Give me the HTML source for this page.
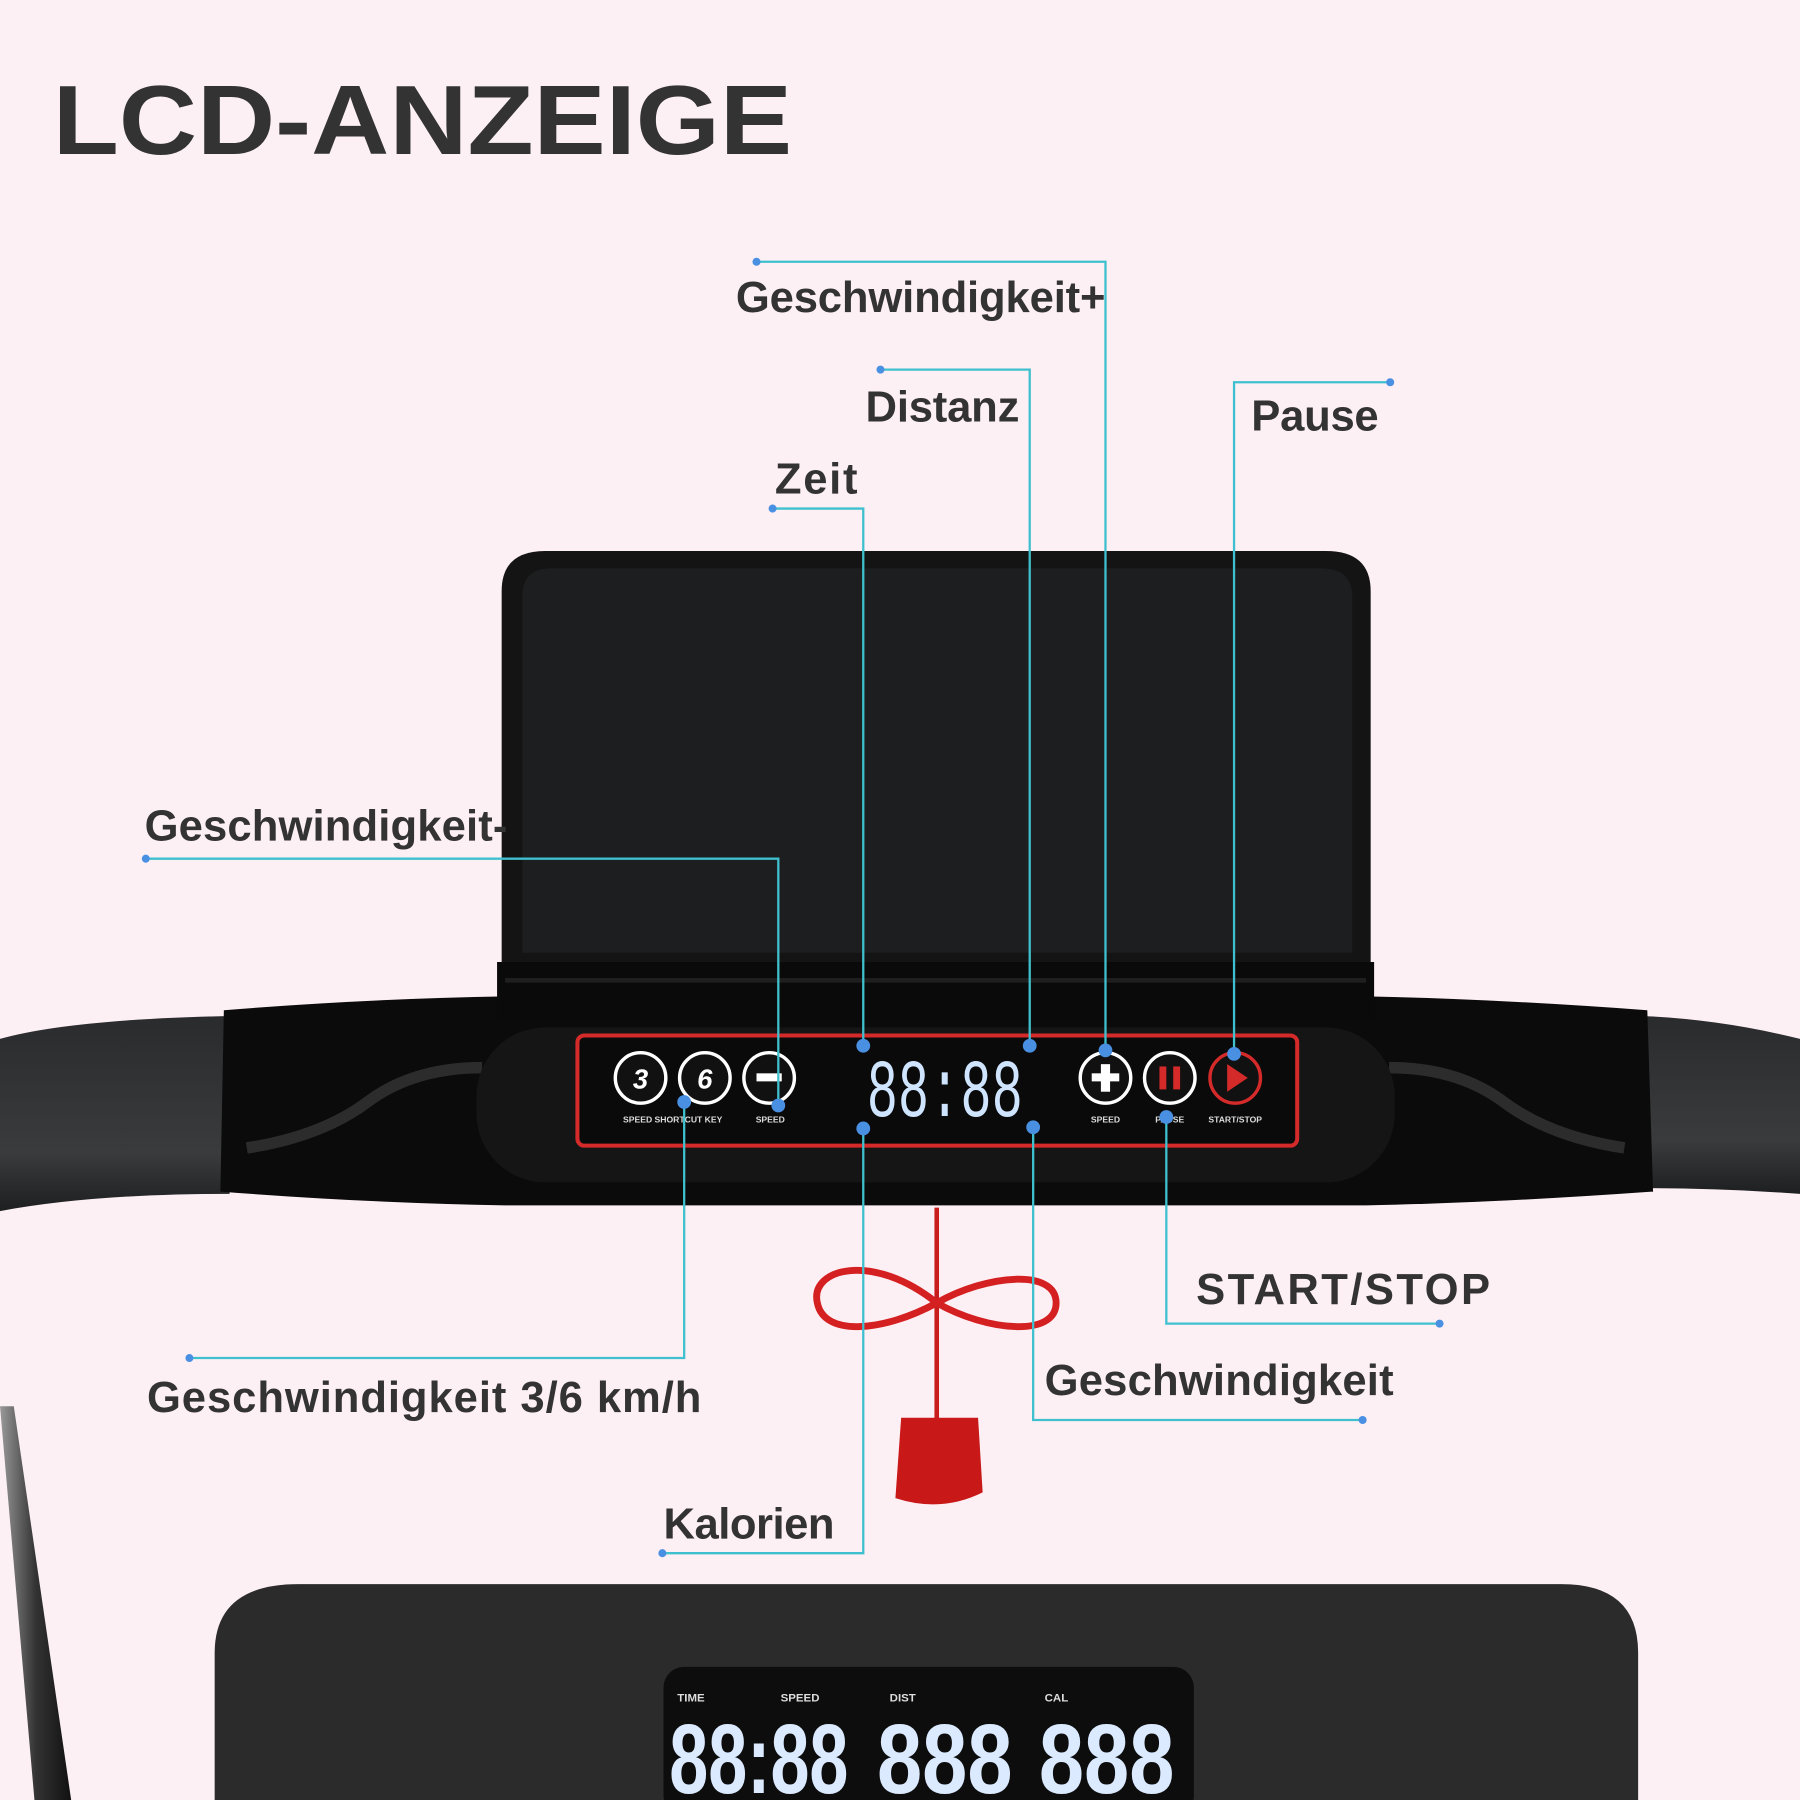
<!DOCTYPE html>
<html><head><meta charset="utf-8"><style>
html,body{margin:0;padding:0;background:#fdf0f5;}
svg{display:block}
text{font-family:"Liberation Sans",sans-serif;font-weight:bold;}
.m{font-family:"Liberation Mono",monospace;font-weight:normal}
</style></head><body>
<svg width="1800" height="1800" viewBox="0 0 1568 1568" xmlns="http://www.w3.org/2000/svg">
<defs>
<linearGradient id="arm" x1="0" y1="0" x2="0" y2="1"><stop offset="0" stop-color="#2a2b2d"/><stop offset="0.7" stop-color="#3a3b3d"/><stop offset="1" stop-color="#1e1f20"/></linearGradient>
<linearGradient id="pole" x1="0" y1="0" x2="1" y2="0"><stop offset="0" stop-color="#999"/><stop offset="0.5" stop-color="#333"/><stop offset="1" stop-color="#111"/></linearGradient>
</defs>
<rect width="1568" height="1568" fill="#fdf0f5"/>
<text x="46" y="134" font-size="86" fill="#333" textLength="644" lengthAdjust="spacingAndGlyphs">LCD-ANZEIGE</text>

<path d="M0 1225 L12 1225 L62 1568 L30 1568 Z" fill="url(#pole)"/>
<path d="M0 905 Q60 888 200 885 L200 1040 Q80 1040 0 1055 Z" fill="url(#arm)"/>
<path d="M1568 905 Q1500 888 1430 885 L1430 1035 Q1500 1035 1568 1040 Z" fill="url(#arm)"/>
<path d="M195 880 Q320 870 440 868 L1190 868 Q1300 870 1435 880 L1440 1038 Q1300 1048 1190 1050 L440 1050 Q320 1048 192 1038 Z" fill="#0b0b0c"/>
<path d="M215 1000 Q280 990 320 960 Q360 930 420 930" stroke="#3a3a3a" stroke-width="10" fill="none" opacity="0.7"/>
<path d="M1415 1000 Q1350 990 1310 960 Q1270 930 1210 930" stroke="#3a3a3a" stroke-width="10" fill="none" opacity="0.7"/>

<path d="M437 840 L437 515 Q437 480 475 480 L1155 480 Q1194 480 1194 515 L1194 840 Z" fill="#141414"/>
<path d="M455 830 L455 520 Q455 495 480 495 L1150 495 Q1178 495 1178 520 L1178 830 Z" fill="#1d1e1f"/>
<rect x="433" y="838" width="764" height="52" fill="#0a0a0a"/>
<rect x="440" y="852" width="750" height="4" fill="#1f1f1f"/>

<rect x="415" y="895" width="800" height="135" rx="60" fill="#151515"/>
<rect x="503" y="902" width="627" height="96" rx="6" fill="#0a0a0a" stroke="#d42a2a" stroke-width="3.5"/>
<g stroke="#fff" stroke-width="3" fill="#111">
<circle cx="558" cy="939" r="22"/><circle cx="614" cy="939" r="22"/><circle cx="670" cy="939" r="22"/>
<circle cx="963" cy="939" r="22"/><circle cx="1019" cy="939" r="22"/>
<circle cx="1076" cy="939" r="22" stroke="#d42a2a"/>
</g>
<text x="558" y="948" font-size="24" fill="#fff" text-anchor="middle" font-style="italic">3</text>
<text x="614" y="948" font-size="24" fill="#fff" text-anchor="middle" font-style="italic">6</text>
<rect x="659" y="935" width="22" height="7" fill="#fff"/>
<rect x="951" y="935" width="24" height="7" fill="#fff"/><rect x="959" y="927" width="8" height="24" fill="#fff"/>
<rect x="1010" y="929" width="6" height="20" fill="#d42a2a"/><rect x="1022" y="929" width="6" height="20" fill="#d42a2a"/>
<path d="M1069 927 L1087 939 L1069 951 Z" fill="#d42a2a"/>
<g font-size="7.5" fill="#ddd" text-anchor="middle">
<text x="586" y="978">SPEED SHORTCUT KEY</text><text x="671" y="978">SPEED</text>
<text x="963" y="978">SPEED</text><text x="1019" y="978">PAUSE</text><text x="1076" y="978">START/STOP</text>
</g>
<text class="m" x="755" y="972" font-size="72" fill="#cfe4ff" textLength="136" lengthAdjust="spacingAndGlyphs">88:88</text>

<line x1="816" y1="1052" x2="816" y2="1240" stroke="#c81d1d" stroke-width="4"/>
<path d="M816 1135 C760 1090 705 1105 712 1135 C718 1165 770 1160 816 1135 C860 1110 920 1105 920 1135 C920 1165 860 1160 816 1135" fill="none" stroke="#d42020" stroke-width="6"/>
<path d="M785 1235 L852 1235 L856 1300 Q820 1318 780 1305 Z" fill="#c81818"/>

<path d="M187 1568 L187 1440 Q187 1380 260 1380 L1360 1380 Q1427 1380 1427 1440 L1427 1568 Z" fill="#2b2b2c"/>
<rect x="578" y="1452" width="462" height="130" rx="18" fill="#0d0d0d"/>
<g font-size="10" fill="#ddd"><text x="590" y="1482">TIME</text><text x="680" y="1482">SPEED</text><text x="775" y="1482">DIST</text><text x="910" y="1482">CAL</text></g>
<g class="m" font-size="86" fill="#dceaff">
<text x="583" y="1562" textLength="156" lengthAdjust="spacingAndGlyphs">88:88</text>
<text x="764" y="1562" textLength="118" lengthAdjust="spacingAndGlyphs">888</text>
<text x="905" y="1562" textLength="118" lengthAdjust="spacingAndGlyphs">888</text>
</g>

<g stroke="#3fc0cf" stroke-width="2" fill="none">
<polyline points="659,228 963,228 963,915"/>
<polyline points="767,322 897,322 897,911"/>
<polyline points="1211,333 1075,333 1075,918"/>
<polyline points="673,443 752,443 752,911"/>
<polyline points="127,748 678,748 678,963"/>
<polyline points="165,1183 596,1183 596,960"/>
<polyline points="577,1353 752,1353 752,983"/>
<polyline points="1254,1153 1016,1153 1016,973"/>
<polyline points="1187,1237 900,1237 900,982"/>
</g>
<g fill="#4a90e2">
<circle cx="659" cy="228" r="3.5"/><circle cx="767" cy="322" r="3.5"/><circle cx="1211" cy="333" r="3.5"/>
<circle cx="673" cy="443" r="3.5"/><circle cx="127" cy="748" r="3.5"/><circle cx="165" cy="1183" r="3.5"/>
<circle cx="577" cy="1353" r="3.5"/><circle cx="1254" cy="1153" r="3.5"/><circle cx="1187" cy="1237" r="3.5"/>
<circle cx="963" cy="915" r="6"/><circle cx="897" cy="911" r="6"/><circle cx="1075" cy="918" r="6"/>
<circle cx="752" cy="911" r="6"/><circle cx="678" cy="963" r="6"/><circle cx="596" cy="960" r="6"/>
<circle cx="752" cy="983" r="6"/><circle cx="1016" cy="973" r="6"/><circle cx="900" cy="982" r="6"/>
</g>

<g font-size="38" fill="#333">
<text x="641" y="272" textLength="322">Geschwindigkeit+</text>
<text x="754" y="367" textLength="134">Distanz</text>
<text x="1090" y="375" textLength="111">Pause</text>
<text x="675" y="430" textLength="72">Zeit</text>
<text x="126" y="732" textLength="316">Geschwindigkeit-</text>
<text x="128" y="1230" textLength="483">Geschwindigkeit 3/6 km/h</text>
<text x="578" y="1340" textLength="149">Kalorien</text>
<text x="1042" y="1136" textLength="256">START/STOP</text>
<text x="910" y="1215" textLength="304">Geschwindigkeit</text>
</g>
</svg>
</body></html>
